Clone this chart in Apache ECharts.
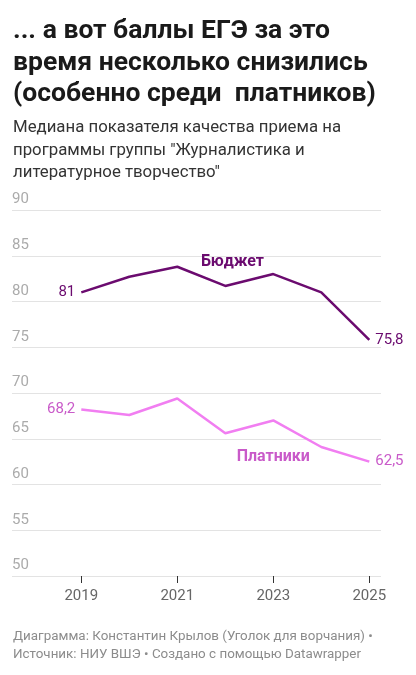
<!DOCTYPE html>
<html>
<head>
<meta charset="utf-8">
<script src="https://cdn.jsdelivr.net/npm/echarts@6/dist/echarts.min.js"></script>
<style>
html,body{margin:0;padding:0;background:#fff;}
#chart{width:416px;height:675px;}
</style>
</head>
<body>
<div id="chart"></div>
<script>
const years = [2019, 2020, 2021, 2022, 2023, 2024, 2025];
const budgetValues = [81, 82.7, 83.8, 81.7, 83.0, 81.0, 75.8];
const paidValues = [68.2, 67.6, 69.4, 65.6, 67.0, 64.1, 62.5];
const yTicks = [50, 55, 60, 65, 70, 75, 80, 85, 90];
const xTickYears = [2019, 2021, 2023, 2025];
const seriesNames = ['Бюджет', 'Платники'];

const titleLines = ['... а вот баллы ЕГЭ за это', 'время несколько снизились', '(особенно среди  платников)'];
const subtitleLines = ['Медиана показателя качества приема на', 'программы группы "Журналистика и', 'литературное творчество"'];
const footerLines = ['Диаграмма: Константин Крылов (Уголок для ворчания) •', 'Источник: НИУ ВШЭ • Создано с помощью Datawrapper'];

const FONT = 'Roboto, "Noto Sans", sans-serif';
const budgetColor = '#6b0b6f';
const paidLine = '#f17ef1';
const paidText = '#c95ac9';

function fmt(v){ return String(v).replace('.', ','); }

function buildData(vals){
  const last = vals.length - 1;
  return vals.map((v, i) => {
    const item = { value: [years[i], v] };
    if (i === 0 || i === last) {
      item.label = { show: true, position: i === 0 ? 'left' : 'right' };
    }
    return item;
  });
}

function seriesLabel(color){
  return { show: false, distance: 6, formatter: p => fmt(p.value[1]), color: color, fontFamily: FONT, fontSize: 15 };
}

const chart = echarts.init(document.getElementById('chart'), null, {renderer: 'canvas'});

const gridTop = 210, gridBottom = 99;

chart.setOption({
  backgroundColor: '#fff',
  animation: false,
  graphic: [
    { type: 'text', left: 13, top: 16, style: { text: titleLines.join('\n'), font: 'bold 26.5px ' + FONT, fill: '#1a1a1a', lineHeight: 31.5 } },
    { type: 'text', left: 13, top: 117, style: { text: subtitleLines.join('\n'), font: '16.8px ' + FONT, fill: '#333', lineHeight: 22.5 } },
    { type: 'text', left: 13, top: 628, style: { text: footerLines.join('\n'), font: '13.4px ' + FONT, fill: '#8c8c8c', lineHeight: 18 } }
  ],
  grid: [
    { left: 12, right: 35, top: gridTop, bottom: gridBottom },
    { left: 81.3, right: 46.7, top: gridTop, bottom: gridBottom }
  ],
  xAxis: [
    { gridIndex: 0, type: 'value', min: 0, max: 1, show: false },
    {
      gridIndex: 1, type: 'value', min: xTickYears[0], max: xTickYears[xTickYears.length-1], interval: 2,
      axisLine: { show: false },
      axisTick: { show: true, length: 7, lineStyle: { color: '#333', width: 1 } },
      axisLabel: { color: '#666', fontSize: 15, fontFamily: FONT, margin: 13, formatter: v => String(v) },
      splitLine: { show: false }
    }
  ],
  yAxis: [
    {
      gridIndex: 0, type: 'value', min: yTicks[0], max: yTicks[yTicks.length-1], interval: 5,
      axisLine: { show: false }, axisTick: { show: false },
      axisLabel: { inside: true, margin: 0, align: 'left', verticalAlign: 'bottom', padding: [0,0,3,0], color: '#ababab', fontSize: 15, fontFamily: FONT },
      splitLine: { show: true, lineStyle: { color: '#e3e3e3', width: 1 } }
    },
    {
      gridIndex: 1, type: 'value', min: yTicks[0], max: yTicks[yTicks.length-1], interval: 5,
      show: false, splitLine: { show: false }
    }
  ],
  series: [
    {
      name: seriesNames[0], type: 'line', xAxisIndex: 1, yAxisIndex: 1,
      data: buildData(budgetValues),
      symbol: 'circle', symbolSize: 0.01, showSymbol: true,
      label: seriesLabel(budgetColor),
      labelLayout: { hideOverlap: false },
      lineStyle: { color: budgetColor, width: 2.5 }, itemStyle: { color: budgetColor },
      markPoint: {
        symbol: 'circle', symbolSize: 0,
        data: [{ coord: [2022.15, 84.3], value: seriesNames[0] }],
        label: { show: true, position: 'inside', formatter: seriesNames[0], color: budgetColor, fontSize: 16, fontWeight: 'bold', fontFamily: FONT }
      }
    },
    {
      name: seriesNames[1], type: 'line', xAxisIndex: 1, yAxisIndex: 1,
      data: buildData(paidValues),
      symbol: 'circle', symbolSize: 0.01, showSymbol: true,
      label: seriesLabel(paidText),
      labelLayout: { hideOverlap: false },
      lineStyle: { color: paidLine, width: 2.5 }, itemStyle: { color: paidLine },
      markPoint: {
        symbol: 'circle', symbolSize: 0,
        data: [{ coord: [2023.0, 63.05], value: seriesNames[1] }],
        label: { show: true, position: 'inside', formatter: seriesNames[1], color: paidText, fontSize: 16, fontWeight: 'bold', fontFamily: FONT }
      }
    }
  ]
});
</script>
</body>
</html>
